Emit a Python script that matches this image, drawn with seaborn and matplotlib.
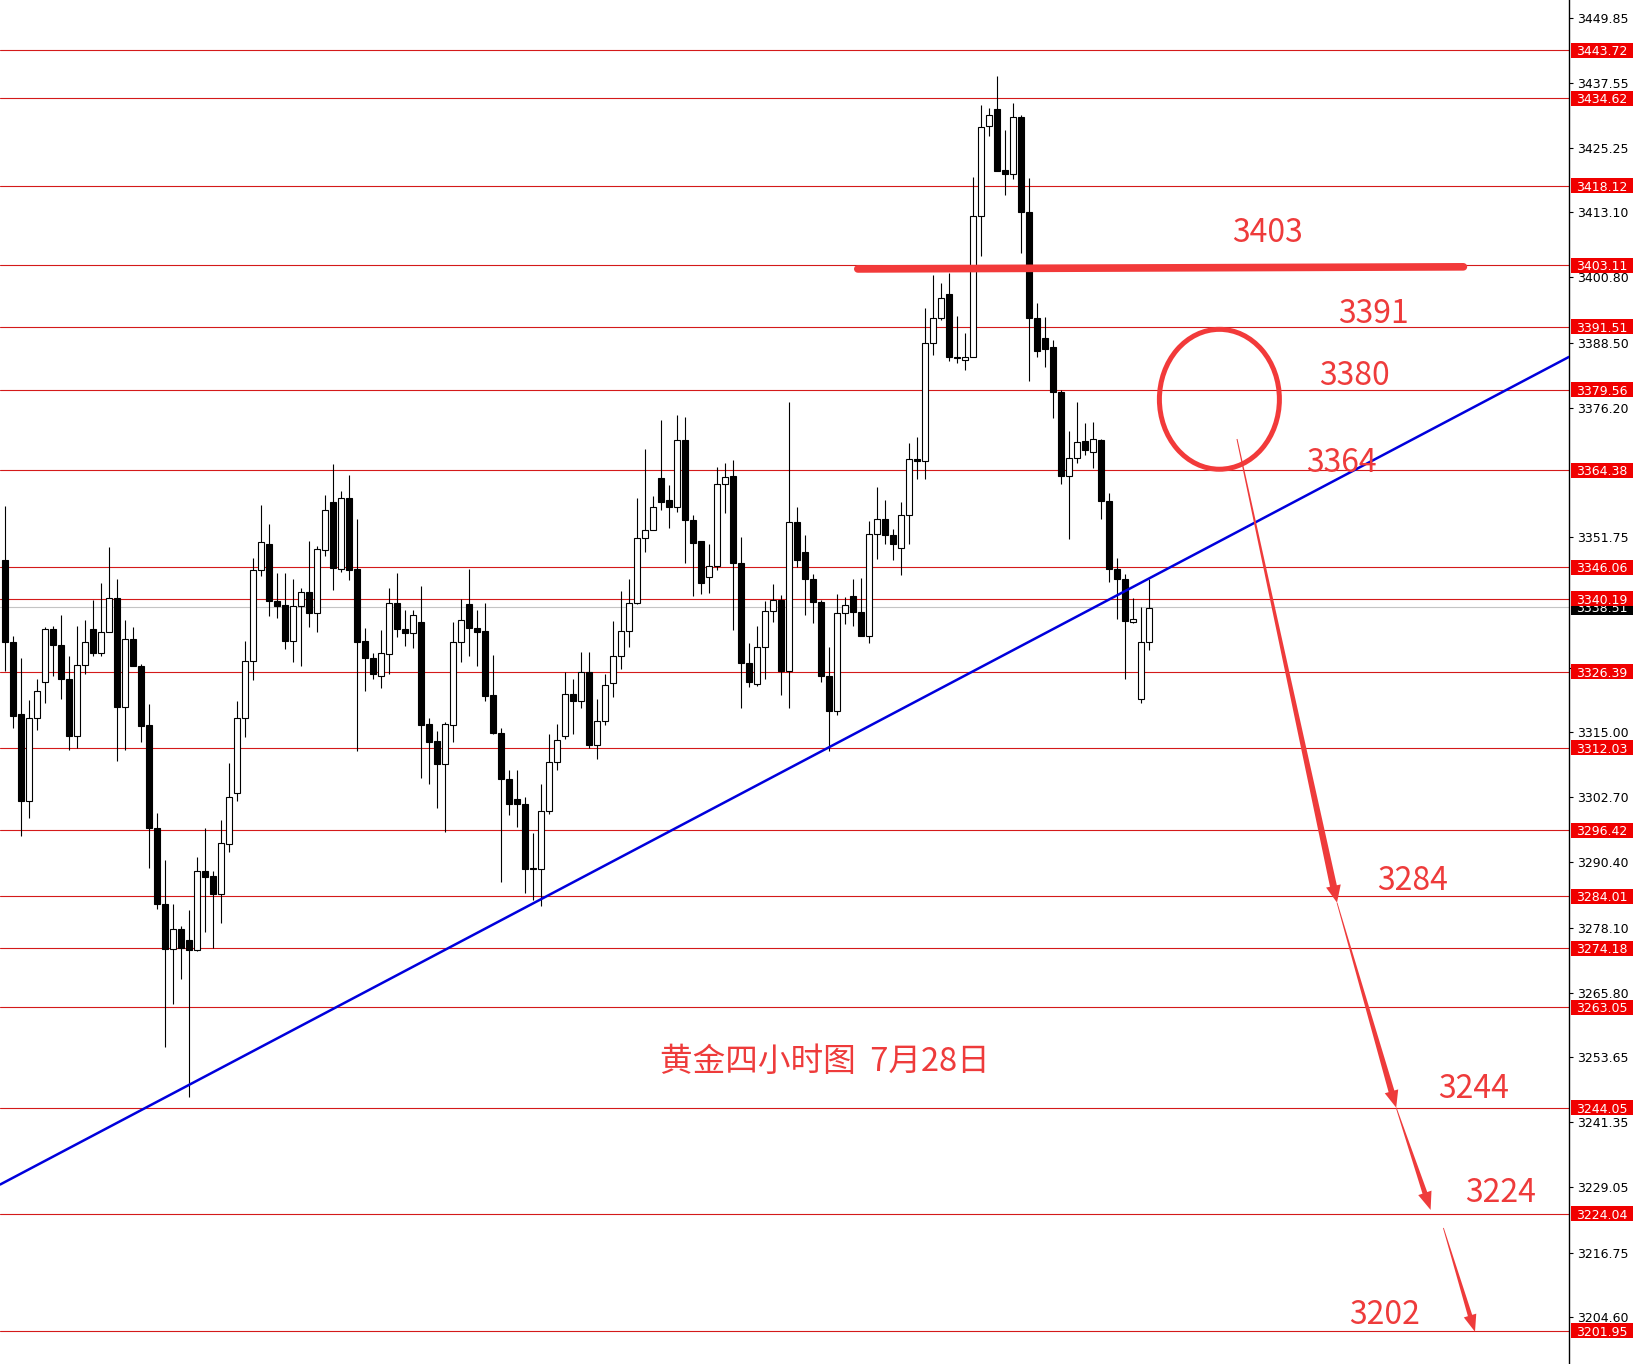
import numpy as np
import pandas as pd
import seaborn as sns
import matplotlib.pyplot as plt
import matplotlib.transforms as mtransforms
from matplotlib.patches import Ellipse, Polygon, Rectangle

# Gold 4H candles (oldest first)
opens = [3347.5, 3331.9, 3318.4, 3301.9, 3317.7, 3324.4, 3334.4, 3331.5, 3325.1, 3314.3,
         3327.7, 3334.5, 3329.9, 3333.9, 3340.3, 3319.7, 3332.6, 3327.5, 3316.3, 3296.9,
         3282.6, 3274.0, 3277.9, 3275.8, 3273.8, 3288.7, 3287.8, 3284.5, 3293.8, 3303.5,
         3317.6, 3328.4, 3345.6, 3350.5, 3339.7, 3338.9, 3332.1, 3338.7, 3341.5, 3337.5,
         3349.3, 3358.4, 3345.8, 3359.2, 3345.7, 3332.1, 3328.9, 3325.5, 3329.8, 3339.3,
         3334.4, 3333.6, 3335.7, 3316.5, 3313.3, 3308.9, 3316.4, 3331.9, 3339.2, 3334.6,
         3334.0, 3321.9, 3314.9, 3306.1, 3302.3, 3301.5, 3289.2, 3289.1, 3300.1, 3309.3,
         3314.2, 3322.1, 3320.9, 3326.3, 3312.6, 3317.1, 3324.2, 3329.4, 3334.1, 3339.3,
         3351.7, 3353.2, 3362.9, 3358.7, 3357.5, 3370.2, 3355.1, 3351.0, 3344.2, 3346.4,
         3361.9, 3363.3, 3346.9, 3328.0, 3324.0, 3331.0, 3337.8, 3339.9, 3326.6, 3354.7,
         3348.9, 3343.9, 3339.5, 3325.6, 3318.9, 3337.4, 3340.7, 3337.6, 3333.2, 3352.3,
         3355.2, 3352.2, 3349.7, 3356.0, 3366.6, 3366.1, 3388.4, 3393.1, 3397.6, 3385.8,
         3385.3, 3385.8, 3412.3, 3429.4, 3432.5, 3421.0, 3420.4, 3431.1, 3413.2, 3393.2,
         3389.4, 3387.6, 3379.2, 3363.4, 3366.7, 3369.9, 3367.9, 3370.1, 3358.6, 3345.7,
         3343.9, 3335.8, 3321.2, 3331.9]
highs = [3357.7, 3333.1, 3328.9, 3321.1, 3325.1, 3334.9, 3335.1, 3337.0, 3329.3, 3335.1,
         3336.1, 3339.9, 3343.1, 3350.0, 3343.9, 3336.2, 3334.8, 3327.8, 3320.3, 3299.7,
         3290.8, 3282.6, 3278.3, 3281.5, 3291.4, 3296.8, 3288.7, 3298.4, 3309.2, 3320.8,
         3332.1, 3347.9, 3357.8, 3354.2, 3345.0, 3345.0, 3343.8, 3342.1, 3351.0, 3350.1,
         3359.8, 3365.5, 3360.4, 3363.6, 3355.2, 3334.7, 3330.0, 3334.2, 3342.1, 3345.1,
         3338.0, 3338.0, 3342.5, 3317.6, 3315.2, 3316.9, 3335.7, 3340.1, 3345.8, 3338.0,
         3339.4, 3329.6, 3315.7, 3307.9, 3307.8, 3302.8, 3296.0, 3305.2, 3314.6, 3316.6,
         3326.3, 3325.0, 3330.1, 3330.1, 3321.3, 3325.9, 3335.9, 3341.6, 3343.9, 3359.2,
         3368.5, 3359.6, 3373.9, 3361.6, 3374.9, 3374.5, 3355.9, 3351.1, 3350.5, 3365.1,
         3365.7, 3366.3, 3351.9, 3331.8, 3335.0, 3339.7, 3342.9, 3340.8, 3377.2, 3357.4,
         3352.2, 3344.9, 3339.9, 3331.0, 3341.0, 3340.5, 3343.9, 3344.1, 3354.8, 3361.2,
         3358.8, 3353.3, 3358.4, 3369.5, 3370.6, 3395.1, 3401.3, 3399.7, 3401.6, 3393.5,
         3390.4, 3419.8, 3433.3, 3432.7, 3438.8, 3428.6, 3433.7, 3431.5, 3419.6, 3395.9,
         3393.4, 3389.0, 3379.5, 3371.9, 3377.2, 3373.3, 3373.5, 3370.3, 3360.2, 3347.9,
         3344.8, 3340.2, 3338.6, 3343.8]
lows = [3326.6, 3315.8, 3295.3, 3298.7, 3315.4, 3320.5, 3325.6, 3321.3, 3311.7, 3311.9,
        3326.0, 3329.3, 3329.3, 3333.8, 3309.6, 3311.7, 3327.4, 3313.1, 3289.3, 3281.6,
        3255.6, 3263.6, 3268.3, 3246.2, 3273.6, 3277.3, 3274.2, 3278.9, 3292.4, 3302.0,
        3314.1, 3324.9, 3344.4, 3336.9, 3336.6, 3330.7, 3328.3, 3327.4, 3334.8, 3333.8,
        3348.3, 3341.8, 3345.2, 3343.6, 3311.5, 3322.8, 3325.1, 3323.4, 3326.0, 3333.0,
        3331.3, 3330.8, 3306.4, 3305.1, 3300.6, 3296.2, 3313.2, 3328.3, 3329.3, 3327.4,
        3320.9, 3314.7, 3286.7, 3299.3, 3297.0, 3284.7, 3283.3, 3282.2, 3299.6, 3307.9,
        3313.6, 3314.7, 3319.6, 3311.9, 3310.0, 3316.3, 3321.7, 3326.9, 3331.0, 3339.1,
        3349.0, 3353.2, 3356.9, 3353.6, 3356.5, 3346.9, 3340.7, 3341.0, 3341.2, 3345.6,
        3356.4, 3334.2, 3319.5, 3323.5, 3323.6, 3325.0, 3335.8, 3321.9, 3319.5, 3346.1,
        3337.0, 3335.5, 3324.4, 3311.5, 3318.3, 3335.4, 3335.1, 3333.2, 3331.8, 3347.7,
        3350.5, 3347.5, 3344.7, 3350.5, 3362.8, 3362.8, 3386.1, 3392.8, 3385.0, 3384.6,
        3383.3, 3385.8, 3404.9, 3427.5, 3420.9, 3416.3, 3419.4, 3405.5, 3381.3, 3385.8,
        3383.8, 3374.3, 3361.8, 3351.4, 3365.7, 3367.2, 3364.9, 3355.2, 3343.3, 3336.3,
        3325.1, 3335.6, 3320.5, 3330.4]
closes = [3331.9, 3318.1, 3301.9, 3317.7, 3322.8, 3334.4, 3331.5, 3325.1, 3314.3, 3327.7,
          3332.0, 3329.9, 3333.9, 3340.3, 3319.7, 3332.6, 3327.5, 3316.2, 3296.9, 3282.6,
          3274.0, 3277.9, 3274.2, 3273.8, 3288.7, 3287.7, 3284.5, 3294.0, 3302.7, 3317.6,
          3328.4, 3345.6, 3350.8, 3339.7, 3338.7, 3332.1, 3338.7, 3341.5, 3337.4, 3349.5,
          3356.9, 3345.9, 3359.1, 3345.5, 3331.9, 3329.0, 3325.9, 3330.0, 3339.3, 3334.4,
          3333.6, 3337.0, 3316.3, 3313.2, 3308.9, 3316.6, 3331.9, 3336.1, 3334.7, 3333.9,
          3321.8, 3314.9, 3306.2, 3301.5, 3301.5, 3289.1, 3289.1, 3300.1, 3309.3, 3313.5,
          3322.1, 3320.9, 3326.3, 3312.6, 3317.1, 3323.9, 3329.4, 3334.1, 3339.3, 3351.7,
          3353.2, 3357.4, 3358.5, 3357.5, 3370.1, 3355.1, 3350.7, 3343.2, 3346.4, 3361.9,
          3363.2, 3346.9, 3328.1, 3324.5, 3331.0, 3337.8, 3339.9, 3326.6, 3354.7, 3347.4,
          3343.9, 3339.5, 3325.5, 3318.9, 3337.4, 3339.0, 3337.6, 3333.2, 3352.3, 3355.2,
          3352.2, 3350.5, 3356.0, 3366.5, 3366.1, 3388.4, 3393.1, 3396.9, 3385.8, 3385.6,
          3385.8, 3412.3, 3429.1, 3431.4, 3420.9, 3420.4, 3431.0, 3413.2, 3393.2, 3387.0,
          3387.3, 3379.2, 3363.4, 3366.7, 3369.8, 3368.3, 3370.3, 3358.6, 3345.7, 3343.9,
          3336.0, 3336.4, 3331.9, 3338.5]

# horizontal levels drawn on the chart
levels = [3443.72, 3434.62, 3418.12, 3403.11, 3391.51, 3379.56, 3364.38, 3346.06,
          3340.19, 3326.39, 3312.03, 3296.42, 3284.01, 3274.18, 3263.05, 3244.05,
          3224.04, 3201.95]
last_price = 3338.51
# price scale labels that are visible (the others sit under the level tags)
axis_ticks = [3449.85, 3437.55, 3425.25, 3413.10, 3400.80, 3388.50, 3376.20,
              3351.75, 3327.15, 3315.00, 3302.70, 3290.40, 3278.10, 3265.80,
              3253.65, 3241.35, 3229.05, 3216.75, 3204.60]

# trend line and hand drawn marks
trend_x = [-0.6, 195.5]
trend_y = [3229.6, 3385.8]
resist_x = [106.6, 182.3]
resist_y = [3402.4, 3402.8]
circle_xy = (151.8, 3377.8)
circle_w = 15.0
circle_h = 26.4
arrow_starts = [(154.0, 3370.3), (166.5, 3282.8), (173.9, 3244.1), (179.8, 3221.4)]
arrow_ends = [(166.5, 3282.8), (173.9, 3244.1), (178.2, 3224.8), (183.75, 3201.8)]

target_labels = ["3403", "3391", "3380", "3364", "3284", "3244", "3224", "3202"]
target_x = [157.8, 171.1, 168.7, 167.1, 176.0, 183.6, 187.0, 172.5]
target_y = [3407.5, 3392.2, 3380.5, 3364.1, 3285.1, 3246.0, 3226.3, 3203.2]
title_text = "黄金四小时图  7月28日"
title_x = 102.5
title_y = 3251.1

RED = '#ee3b3b'

sns.set_style("white")
plt.rcParams['font.family'] = ['Noto Sans CJK SC', 'DejaVu Sans']

fig = plt.figure(figsize=(16.4, 13.64), dpi=100)
ax = fig.add_axes([0, 0, 1569 / 1640, 1])
ax.set_xlim(-0.625, 195.5)
ax.set_ylim(3195.72, 3453.16)

# ---- candles ----
df = pd.DataFrame({'open': opens, 'high': highs, 'low': lows, 'close': closes})
df['idx'] = np.arange(len(df))
up = df['close'] >= df['open']
body_bottom = df[['open', 'close']].min(axis=1)
body_h = (df['close'] - df['open']).abs().clip(lower=0.25)

ax.vlines(df['idx'], df['low'], df['high'], color='black', lw=0.8, zorder=3)
ax.bar(df['idx'], body_h, bottom=body_bottom, width=0.68,
       color=np.where(up, 'white', 'black'), edgecolor='black', linewidth=0.8, zorder=4)

# ---- levels ----
ax.axhline(last_price, color='#c4c4c4', lw=0.8, zorder=1.5)
for lv in levels:
    ax.axhline(lv, color='#d41a1a', lw=0.8, zorder=2)

# ---- trend line ----
sns.lineplot(x=trend_x, y=trend_y, ax=ax, color='#0000dc', lw=1.8, zorder=5)

# ---- hand drawn marks ----
ax.plot(resist_x, resist_y, color='#f23a3a', lw=5.5, solid_capstyle='round', zorder=6)
ax.add_patch(Ellipse(circle_xy, circle_w, circle_h, fill=False, ec='#f23a3a', lw=3.6, zorder=6))


def arrow_poly(p0, p1, w0, w1, hl, hw):
    # tapered arrow built in pixel space, returned in data coords
    a = ax.transData.transform(p0)
    b = ax.transData.transform(p1)
    d = b - a
    u = d / np.hypot(*d)
    n = np.array([-u[1], u[0]])
    base = b - u * hl
    pts = [a + n * w0 / 2, base + n * w1 / 2, base + n * hw / 2, b,
           base - n * hw / 2, base - n * w1 / 2, a - n * w0 / 2]
    return ax.transData.inverted().transform(pts)


arrow_style = [(1.0, 7, 17, 15), (0.8, 6, 17, 14), (0.8, 5, 18, 14), (0.8, 4.5, 17, 13)]
for p0, p1, st in zip(arrow_starts, arrow_ends, arrow_style):
    ax.add_patch(Polygon(arrow_poly(p0, p1, *st), closed=True, fc=RED, ec='none', zorder=6))

# ---- texts ----
for s, x, y in zip(target_labels, target_x, target_y):
    ax.text(x, y, s, color=RED, fontsize=23, ha='center', va='baseline', zorder=7,
            family=['Noto Sans CJK SC', 'DejaVu Sans'])
ax.text(title_x, title_y, title_text, color=RED, fontsize=23.5, ha='center', va='baseline',
        zorder=7, family=['Noto Sans CJK SC', 'DejaVu Sans'])

# ---- right price axis ----
for side in ['top', 'left', 'bottom']:
    ax.spines[side].set_visible(False)
ax.spines['right'].set_color('black')
ax.spines['right'].set_linewidth(1.0)
ax.set_xticks([])
ax.yaxis.tick_right()
ax.set_yticks(axis_ticks)
ax.set_yticklabels([f"{v:.2f}" for v in axis_ticks], family='DejaVu Sans')
ax.tick_params(axis='y', length=3, width=0.8, pad=2.5, labelsize=9, colors='black')

trans = mtransforms.blended_transform_factory(ax.transAxes, ax.transData)
ppu = 1364 / (3453.16 - 3195.72)
half = 7.5 / ppu
box_x0 = 1571 / 1569
box_w = 62 / 1569


def price_tag(value, color, z):
    ax.add_patch(Rectangle((box_x0, value - half), box_w, 2 * half, transform=trans,
                           fc=color, ec='none', clip_on=False, zorder=z))
    ax.text(box_x0 + box_w / 2, value, f"{value:.2f}", transform=trans, color='white',
            fontsize=9, ha='center', va='center_baseline', family='DejaVu Sans',
            clip_on=False, zorder=z + 0.1)


price_tag(last_price, 'black', 8)
for lv in levels:
    price_tag(lv, '#f00000', 9)

fig.savefig('out.png', dpi=100)
